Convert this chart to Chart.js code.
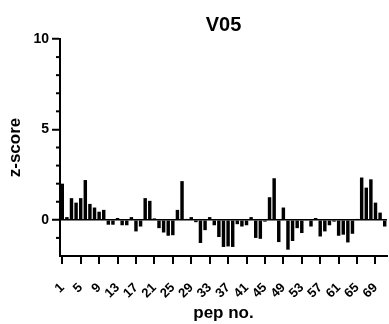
<!DOCTYPE html>
<html>
<head>
<meta charset="utf-8">
<script src="https://cdn.jsdelivr.net/npm/chart.js@4"></script>
<style>
html, body { margin: 0; padding: 0; background: #fff; }
#wrap { width: 389px; height: 324px; }
</style>
</head>
<body>
<div id="wrap"><canvas id="v05-chart"></canvas></div>
<script>
const peps = ['1','2','3','4','5','6','7','8','9','10','11','12','13','14','15','16','17','18','19','20',
   '21','22','23','24','25','26','27','28','29','30','31','32','33','34','35','36','37','38','39','40',
   '41','42','43','44','45','46','47','48','49','50','51','52','53','54','55','56','57','58','59','60',
   '61','62','63','64','65','66','67','68','69','70','71']

const zScores = [2.0, 0.15, 1.2, 0.95, 1.2, 2.2, 0.88, 0.68, 0.45, 0.55,
   -0.27, -0.27, 0.1, -0.3, -0.3, 0.15, -0.64, -0.37, 1.2, 1.05,
   0.08, -0.46, -0.7, -0.88, -0.85, 0.55, 2.14, 0.05, 0.15, -0.13,
   -1.28, -0.57, 0.15, -0.3, -0.95, -1.5, -1.47, -1.5, -0.24, -0.37,
   -0.3, 0.15, -1.0, -1.05, -0.1, 1.25, 2.3, -1.23, 0.68, -1.65,
   -1.17, -0.46, -0.73, -0.05, -0.37, 0.1, -0.92, -0.64, -0.3, -0.1,
   -0.88, -0.82, -1.25, -0.77, 0.05, 2.34, 1.78, 2.24, 0.95, 0.4,
   -0.37]

const shownPeps = ['1','5','9','13','17','21','25','29','33','37','41','45','49','53','57','61','65','69']
const yMajor = [0, 5, 10]

const fontFam = "'Liberation Sans', Arial, sans-serif"

// small ticks on the y axis at every whole number
const minorTicks = {
   id: 'minorTicks',
   afterDraw(chart) {
      const y = chart.scales.y
      const c = chart.ctx
      c.save()
      c.strokeStyle = '#000'
      c.lineWidth = 2
      y.ticks.forEach(t => {
         if (yMajor.includes(t.value) || t.value === y.min) return
         const py = y.getPixelForValue(t.value)
         c.beginPath()
         c.moveTo(y.right - 4, py)
         c.lineTo(y.right, py)
         c.stroke()
      })
      c.restore()
   }
}

const ctx = document.getElementById('v05-chart')

const barGraph = new Chart(ctx, {
   type: 'bar',
   data: {
      labels: peps,
      datasets: [{
         label: 'V05',
         data: zScores,
         backgroundColor: '#000',
         borderWidth: 0,
         barPercentage: 0.75,
         categoryPercentage: 1
      }]
   },
   options: {
      responsive: true,
      maintainAspectRatio: false,
      animation: false,
      devicePixelRatio: 1,
      layout: { padding: { left: 5, right: 2, top: 0, bottom: 0 } },
      plugins: {
         legend: { display: false },
         tooltip: { enabled: false },
         title: {
            display: true,
            text: 'V05',
            fullSize: false,
            color: '#000',
            font: { family: fontFam, size: 20, weight: 'bold' },
            padding: { top: 13, bottom: 2 }
         }
      },
      scales: {
         x: {
            type: 'category',
            offset: true,
            // keep the plot wide and its bottom where the reference has it
            afterFit: s => {
               s.paddingRight = 2
               s.height = 68
            },
            border: { color: '#000', width: 2 },
            grid: {
               display: true,
               drawOnChartArea: false,
               offset: false,
               tickLength: 8,
               lineWidth: 2,
               color: c => shownPeps.includes(peps[c.index]) ? '#000' : 'rgba(0,0,0,0)'
            },
            ticks: {
               autoSkip: false,
               minRotation: 45,
               maxRotation: 45,
               padding: 16,
               color: '#000',
               font: { family: fontFam, size: 13, weight: 'bold' },
               callback: function (val) {
                  const l = this.getLabelForValue(val)
                  return shownPeps.includes(l) ? l : ''
               }
            },
            title: {
               display: true,
               text: 'pep no.',
               color: '#000',
               font: { family: fontFam, size: 17, weight: 'bold' },
               padding: { top: 6, bottom: 0 }
            }
         },
         y: {
            min: -2,
            max: 10,
            border: { color: '#000', width: 2 },
            grid: {
               drawOnChartArea: true,
               tickLength: 8,
               tickWidth: 2,
               lineWidth: 1.5,
               color: c => c.tick.value === 0 ? '#000' : 'rgba(0,0,0,0)',
               tickColor: c => yMajor.includes(c.tick.value) ? '#000' : 'rgba(0,0,0,0)'
            },
            ticks: {
               stepSize: 1,
               autoSkip: false,
               padding: 3,
               color: '#000',
               font: { family: fontFam, size: 14, weight: 'bold' },
               callback: v => yMajor.includes(v) ? v : ''
            },
            title: {
               display: true,
               text: 'z-score',
               color: '#000',
               font: { family: fontFam, size: 17, weight: 'bold' },
               padding: { top: 0, bottom: 5 }
            }
         }
      }
   },
   plugins: [minorTicks]
})
</script>
</body>
</html>
